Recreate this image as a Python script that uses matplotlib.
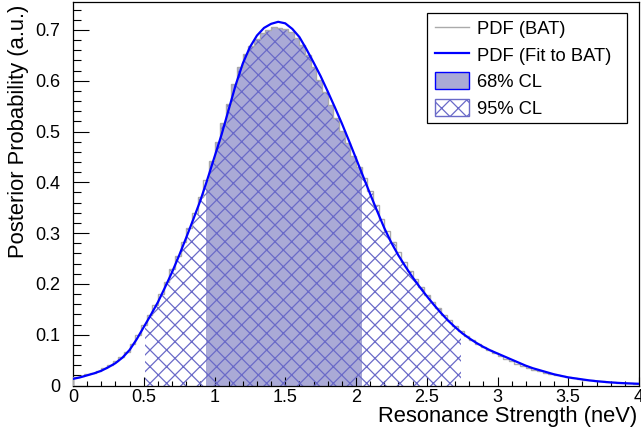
import numpy as np
import matplotlib
matplotlib.use("Agg")
import matplotlib.pyplot as plt
from matplotlib.lines import Line2D
from matplotlib.patches import Patch, Rectangle
from matplotlib.ticker import MultipleLocator

plt.rcParams['font.family'] = ['Liberation Sans', 'DejaVu Sans']
plt.rcParams['hatch.linewidth'] = 0.9

# ---- data ----
x_label = "Resonance Strength (neV)"
y_label = "Posterior Probability (a.u.)"
legend_labels = ["PDF (BAT)", "PDF (Fit to BAT)", "68% CL", "95% CL"]

hist_range = (0.0, 4.0)
hist_values = [
    0.016, 0.019, 0.022, 0.025, 0.029, 0.034, 0.040, 0.048, 0.056, 0.066,
    0.081, 0.099, 0.119, 0.138, 0.159, 0.181, 0.204, 0.229, 0.255, 0.282,
    0.311, 0.340, 0.371, 0.405, 0.442, 0.479, 0.516, 0.555, 0.593, 0.627,
    0.652, 0.669, 0.682, 0.694, 0.700, 0.705, 0.704, 0.702, 0.695, 0.685,
    0.670, 0.651, 0.627, 0.602, 0.577, 0.552, 0.526, 0.502, 0.477, 0.451,
    0.431, 0.408, 0.383, 0.355, 0.328, 0.304, 0.283, 0.263, 0.244, 0.226,
    0.209, 0.194, 0.179, 0.165, 0.152, 0.139, 0.128, 0.117, 0.107, 0.098,
    0.090, 0.082, 0.075, 0.069, 0.063, 0.058, 0.053, 0.048, 0.043, 0.039,
    0.035, 0.031, 0.028, 0.025, 0.022, 0.020, 0.018, 0.016, 0.014, 0.013,
    0.0118, 0.0104, 0.0092, 0.0082, 0.0072, 0.0064, 0.0057, 0.0050, 0.0044, 0.0039,
]

fit_x = [round(0.05 * i, 2) for i in range(81)]
fit_y = [
    0.013, 0.016, 0.020, 0.024, 0.029, 0.036, 0.044, 0.055, 0.070, 0.091,
    0.115, 0.139, 0.164, 0.193, 0.223, 0.256, 0.291, 0.327, 0.364, 0.406,
    0.450, 0.494, 0.543, 0.592, 0.634, 0.666, 0.689, 0.704, 0.712, 0.716,
    0.713, 0.702, 0.686, 0.662, 0.636, 0.609, 0.579, 0.548, 0.516, 0.482,
    0.447, 0.412, 0.377, 0.343, 0.310, 0.281, 0.256, 0.234, 0.213, 0.194,
    0.176, 0.159, 0.143, 0.128, 0.115, 0.103, 0.093, 0.084, 0.076, 0.069,
    0.063, 0.057, 0.051, 0.045, 0.039, 0.034, 0.030, 0.026, 0.022, 0.019,
    0.016, 0.014, 0.012, 0.010, 0.0085, 0.0072, 0.0061, 0.0052, 0.0045, 0.0039,
    0.0034,
]

cl68 = (0.94, 2.045)
cl95 = (0.51, 2.74)

# ---- styles ----
fill68 = '#aaaad6'
hatch_col = '#6a6ac8'
blue = '#0000ff'
gray = '#aaaaaa'

W, H = 641, 436
AX_L, AX_R, AX_B, AX_T = 73, 639, 385.5, 2.0   # pixel frame (top-left origin)
fig = plt.figure(figsize=(W / 100, H / 100), dpi=100)
ax = fig.add_axes([AX_L / W, (H - AX_B) / H, (AX_R - AX_L) / W, (AX_B - AX_T) / H])


def ax_x(px):
    return (px - AX_L) / (AX_R - AX_L)


def ax_y(py):
    return (AX_B - py) / (AX_B - AX_T)


edges = np.linspace(hist_range[0], hist_range[1], len(hist_values) + 1)
vals = np.asarray(hist_values)


def band(lo, hi):
    inner = edges[(edges > lo) & (edges < hi)]
    xs = np.concatenate([[lo], inner, [hi]])
    idx = np.clip(np.searchsorted(edges, xs[:-1], side='right') - 1, 0, len(vals) - 1)
    ys = vals[idx]
    ys = np.concatenate([ys, [ys[-1]]])
    return xs, ys


xs68, ys68 = band(*cl68)
ax.fill_between(xs68, ys68, step='post', facecolor=fill68, edgecolor='none', linewidth=0, zorder=1)
xs95, ys95 = band(*cl95)
ax.fill_between(xs95, ys95, step='post', facecolor='none', edgecolor=hatch_col, hatch='xx',
                linewidth=0, zorder=2)

ax.stairs(vals, edges, color=gray, linewidth=1.0, zorder=3)
ax.plot(fit_x, fit_y, color=blue, linewidth=1.6, zorder=4)

ax.set_xlim(0, 4)
ax.set_ylim(0, 0.755)

ax.xaxis.set_major_locator(MultipleLocator(0.5))
ax.xaxis.set_minor_locator(MultipleLocator(0.1))
ax.yaxis.set_major_locator(MultipleLocator(0.1))
ax.yaxis.set_minor_locator(MultipleLocator(0.02))
ax.xaxis.set_major_formatter(plt.FuncFormatter(lambda v, p: ('%g' % v)))
ax.yaxis.set_major_formatter(plt.FuncFormatter(lambda v, p: ('%g' % round(v, 2))))

ax.tick_params(axis='x', which='major', direction='in', length=6.8, width=0.8, labelsize=13, pad=2.5,
               top=False)
ax.tick_params(axis='x', which='minor', direction='in', length=3.6, width=0.8, top=False)
ax.tick_params(axis='y', which='major', direction='in', length=11.5, width=0.8, labelsize=13, pad=9,
               right=False)
ax.tick_params(axis='y', which='minor', direction='in', length=5.8, width=0.8, right=False)

for s in ax.spines.values():
    s.set_linewidth(0.9)
    s.set_color('black')

ax.set_xlabel(x_label, fontsize=15.8, ha='right', va='center')
ax.xaxis.set_label_coords(ax_x(637.5), ax_y(416))
ax.set_ylabel(y_label, fontsize=15.8, ha='right', va='center')
ax.yaxis.set_label_coords(ax_x(19), ax_y(5))

# legend box (drawn explicitly for ROOT-like asymmetric padding)
bx0, bx1, by0, by1 = ax_x(427), ax_x(627), ax_y(123), ax_y(13)
ax.add_patch(Rectangle((bx0, by0), bx1 - bx0, by1 - by0, transform=ax.transAxes,
                       facecolor='white', edgecolor='black', linewidth=0.9, zorder=5))

handles = [
    Line2D([], [], color=gray, linewidth=1.0),
    Line2D([], [], color=blue, linewidth=1.6),
    Patch(facecolor=fill68, edgecolor=blue, linewidth=1.0),
    Patch(facecolor='white', edgecolor=hatch_col, hatch='xx', linewidth=1.0),
]
leg = ax.legend(handles, legend_labels, loc='upper left', bbox_to_anchor=(ax_x(428.5), by1),
                borderaxespad=0, fontsize=13.2, frameon=False,
                handlelength=1.85, handleheight=1.05, handletextpad=0.45,
                labelspacing=0.42, borderpad=0.35)
leg.set_zorder(6)

fig.savefig('out.png', dpi=100)
